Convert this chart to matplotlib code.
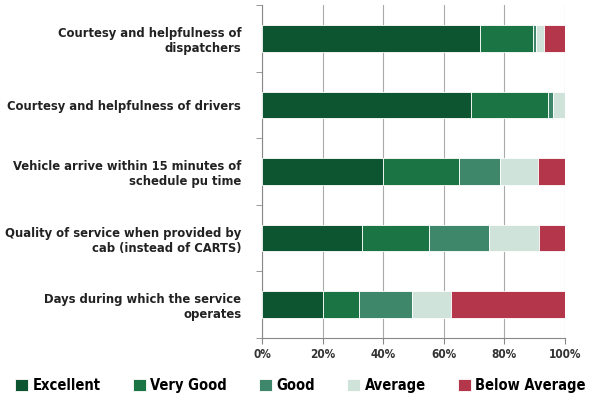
import numpy as np
import matplotlib.pyplot as plt
from matplotlib.ticker import PercentFormatter

plt.rcParams['font.family'] = ['DejaVu Sans']
plt.rcParams['font.stretch'] = 'condensed'

categories = ["Courtesy and helpfulness of\ndispatchers",
              "Courtesy and helpfulness of drivers",
              "Vehicle arrive within 15 minutes of\nschedule pu time",
              "Quality of service when provided by\ncab (instead of CARTS)",
              "Days during which the service\noperates"]
series = ["Excellent", "Very Good", "Good", "Average", "Below Average"]
excellent = [72, 69, 40, 33, 20]
very_good = [17.5, 25.5, 25, 22, 12]
good = [1, 1.5, 13.5, 20, 17.5]
average = [2.5, 4, 12.5, 16.5, 13]
below_avg = [7, 0, 9, 8.5, 37.5]
colors = ["#0d5430", "#1b7444", "#3f876a", "#cfe3da", "#b3364a"]

values = [excellent, very_good, good, average, below_avg]

fig = plt.figure(figsize=(5.89, 4), dpi=100)
ax = fig.add_axes([262/589, 1 - 338/400, 303/589, 333/400])

y = np.arange(len(categories))
left = np.zeros(len(categories))
for name, vals, c in zip(series, values, colors):
    ax.barh(y, vals, left=left, height=0.4, color=c, label=name,
            edgecolor='white', linewidth=0.6, zorder=3)
    left += np.array(vals)

ax.set_xlim(0, 100)
ax.set_ylim(len(categories) - 0.5, -0.5)
ax.set_yticks(y)
ax.set_yticklabels(categories, fontsize=9.3, fontweight='bold', ha='right',
                   multialignment='right', color='#222222')
ax.set_yticks(np.arange(len(categories) + 1) - 0.5, minor=True)
ax.tick_params(axis='y', which='major', length=0, pad=15)
ax.tick_params(axis='y', which='minor', length=4, color='#888888')
ax.set_xticks([0, 20, 40, 60, 80, 100])
ax.xaxis.set_major_formatter(PercentFormatter(decimals=0))
ax.tick_params(axis='x', labelsize=8.5, length=4, color='#888888')
for lab in ax.get_xticklabels():
    lab.set_fontweight('bold')
    lab.set_color('#333333')
ax.grid(axis='x', color='#aaaaaa', linewidth=0.8, zorder=0)
for s in ['top', 'right']:
    ax.spines[s].set_visible(False)
ax.spines['left'].set_color('#888888')
ax.spines['bottom'].set_color('#888888')

fig.legend(loc='lower center', bbox_to_anchor=(0.51, -0.015), ncol=5, frameon=False,
           prop={'size': 10.5, 'weight': 'bold'}, handlelength=0.9,
           handleheight=0.9, handletextpad=0.3, columnspacing=2.2)

fig.savefig("out.png", dpi=100)
